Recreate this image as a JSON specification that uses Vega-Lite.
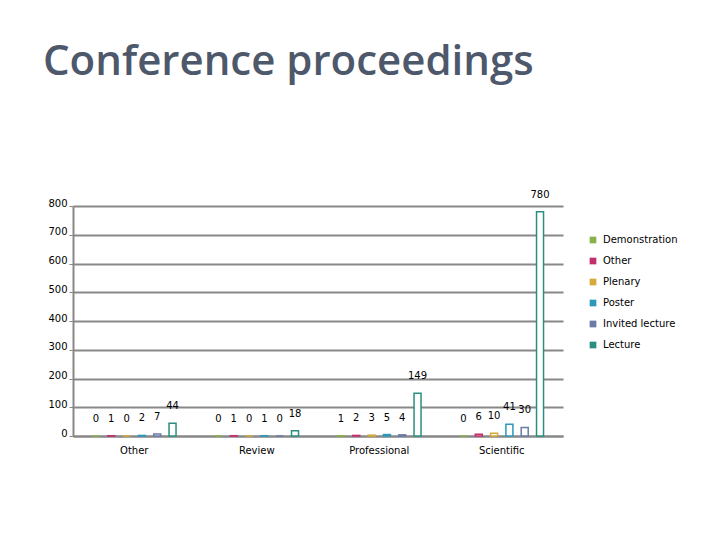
{
  "$schema": "https://vega.github.io/schema/vega-lite/v6.json",
  "description": "Conference proceedings by type",
  "autosize": "none",
  "width": 490,
  "height": 230,
  "padding": {"left": 73, "top": 206, "right": 157, "bottom": 104},
  "background": "white",
  "title": {
    "text": "Conference proceedings",
    "anchor": "start",
    "frame": "group",
    "orient": "top",
    "offset": 106,
    "dx": -30,
    "font": "Open Sans",
    "fontSize": 42,
    "fontWeight": 600,
    "color": "#4e586b"
  },
  "data": {
    "values": [
      {"group": "Other", "type": "Demonstration", "count": 0},
      {"group": "Other", "type": "Other", "count": 1},
      {"group": "Other", "type": "Plenary", "count": 0},
      {"group": "Other", "type": "Poster", "count": 2},
      {"group": "Other", "type": "Invited lecture", "count": 7},
      {"group": "Other", "type": "Lecture", "count": 44},
      {"group": "Review", "type": "Demonstration", "count": 0},
      {"group": "Review", "type": "Other", "count": 1},
      {"group": "Review", "type": "Plenary", "count": 0},
      {"group": "Review", "type": "Poster", "count": 1},
      {"group": "Review", "type": "Invited lecture", "count": 0},
      {"group": "Review", "type": "Lecture", "count": 18},
      {"group": "Professional", "type": "Demonstration", "count": 1},
      {"group": "Professional", "type": "Other", "count": 2},
      {"group": "Professional", "type": "Plenary", "count": 3},
      {"group": "Professional", "type": "Poster", "count": 5},
      {"group": "Professional", "type": "Invited lecture", "count": 4},
      {"group": "Professional", "type": "Lecture", "count": 149},
      {"group": "Scientific", "type": "Demonstration", "count": 0},
      {"group": "Scientific", "type": "Other", "count": 6},
      {"group": "Scientific", "type": "Plenary", "count": 10},
      {"group": "Scientific", "type": "Poster", "count": 41},
      {"group": "Scientific", "type": "Invited lecture", "count": 30},
      {"group": "Scientific", "type": "Lecture", "count": 780}
    ]
  },
  "encoding": {
    "x": {
      "field": "group",
      "type": "nominal",
      "sort": ["Other", "Review", "Professional", "Scientific"],
      "scale": {"paddingInner": 0, "paddingOuter": 0},
      "axis": {
        "title": null,
        "labelAngle": 0,
        "labelPadding": 9,
        "ticks": false,
        "domainColor": "#888888",
        "domainWidth": 2
      }
    },
    "xOffset": {
      "field": "type",
      "type": "nominal",
      "sort": ["Demonstration", "Other", "Plenary", "Poster", "Invited lecture", "Lecture"],
      "scale": {"paddingOuter": 1.2}
    },
    "y": {
      "field": "count",
      "type": "quantitative",
      "scale": {"domain": [0, 800]},
      "axis": {
        "title": null,
        "values": [0, 100, 200, 300, 400, 500, 600, 700, 800],
        "labelBaseline": "alphabetic",
        "labelPadding": 2,
        "tickSize": 4,
        "tickColor": "#888888",
        "domainColor": "#888888",
        "domainWidth": 2,
        "gridColor": "#888888",
        "gridWidth": 2
      }
    },
    "color": {
      "field": "type",
      "type": "nominal",
      "sort": ["Demonstration", "Other", "Plenary", "Poster", "Invited lecture", "Lecture"],
      "scale": {
        "domain": ["Demonstration", "Other", "Plenary", "Poster", "Invited lecture", "Lecture"],
        "range": ["#8bb14b", "#c2306b", "#d4aa3a", "#2d98b9", "#6b7ba8", "#2a8f7f"]
      },
      "legend": {
        "title": null,
        "orient": "none",
        "legendX": 515,
        "legendY": 29,
        "symbolType": "square",
        "symbolSize": 45,
        "symbolStrokeWidth": 0,
        "rowPadding": 11,
        "labelOffset": 5,
        "labelFontSize": 10
      }
    }
  },
  "layer": [
    {
      "mark": {"type": "bar", "width": 7, "fill": "white", "strokeWidth": 1.5},
      "encoding": {
        "stroke": {
          "field": "type",
          "type": "nominal",
          "scale": {
            "domain": ["Demonstration", "Other", "Plenary", "Poster", "Invited lecture", "Lecture"],
            "range": ["#8bb14b", "#c2306b", "#d4aa3a", "#2d98b9", "#6b7ba8", "#2a8f7f"]
          },
          "legend": null
        }
      }
    },
    {
      "mark": {"type": "text", "baseline": "bottom", "dy": -12, "fontSize": 10, "color": "black"},
      "encoding": {
        "text": {"field": "count", "type": "quantitative"},
        "color": {"value": "black"}
      }
    }
  ],
  "config": {
    "font": "DejaVu Sans",
    "view": {"stroke": null},
    "axis": {"labelFont": "DejaVu Sans", "labelFontSize": 10, "labelColor": "black"},
    "legend": {"labelFont": "DejaVu Sans", "labelColor": "black"}
  }
}
